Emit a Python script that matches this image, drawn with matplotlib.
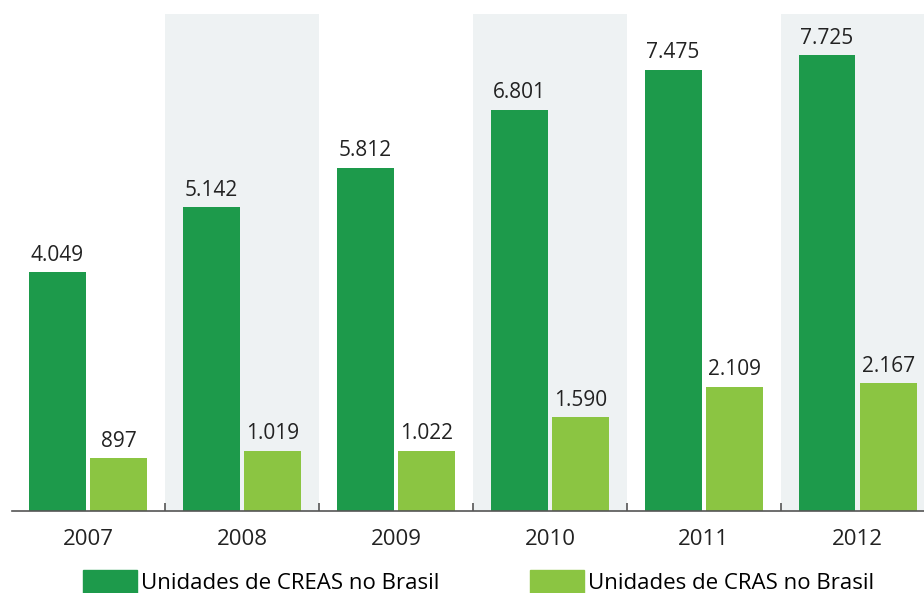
import numpy as np
import matplotlib.pyplot as plt
from matplotlib.patches import Patch

years = ["2007", "2008", "2009", "2010", "2011", "2012"]
creas = [4049, 5142, 5812, 6801, 7475, 7725]
cras = [897, 1019, 1022, 1590, 2109, 2167]

DARK = "#1d9a4b"
LIGHT = "#8bc542"
BAND = "#eef2f3"

plt.rcParams["font.family"] = ["Open Sans", "DejaVu Sans"]


def fmt(v):
    return f"{v:,}".replace(",", ".")


fig = plt.figure(figsize=(9.24, 5.93), dpi=100)
ax = fig.add_axes([12 / 924, 1 - 511 / 593, 1 - 12 / 924, (511 - 14) / 593])

x = np.arange(len(years))
w = 0.37
off = 0.2

# alternate shaded bands
for i in range(1, len(years), 2):
    ax.axvspan(i - 0.5, i + 0.5, color=BAND, zorder=0, lw=0)

b1 = ax.bar(x - off, creas, w, color=DARK, zorder=2)
b2 = ax.bar(x + off, cras, w, color=LIGHT, zorder=2)

for rect, v in list(zip(b1, creas)) + list(zip(b2, cras)):
    ax.text(rect.get_x() + rect.get_width() / 2, v + 110, fmt(v),
            ha="center", va="bottom", fontsize=15, color="#222222")

ax.set_yticks([])
for s in ["top", "right", "left"]:
    ax.spines[s].set_visible(False)
ax.spines["bottom"].set_color("#555555")
ax.spines["bottom"].set_linewidth(1.2)

ax.set_xticks(x)
ax.set_xticklabels(years, fontsize=16, color="#222222")
ax.tick_params(axis="x", which="major", length=0, pad=13)
ax.set_xticks(np.arange(-0.5, len(years), 1), minor=True)
ax.tick_params(axis="x", which="minor", direction="in", length=6,
               color="#555555", width=1.2)

# limits after ticks, set_xticks would widen them otherwise
ax.set_xlim(-0.494, 5.43)
ax.set_ylim(0, 8420)

handles = [Patch(color=DARK, label="Unidades de CREAS no Brasil"),
           Patch(color=LIGHT, label="Unidades de CRAS no Brasil")]
fig.legend(handles=handles, loc="center", ncol=2, frameon=False,
           bbox_to_anchor=(0.518, 1 - 582 / 593), fontsize=16,
           handlelength=2.4, handleheight=1.3, handletextpad=0.18,
           columnspacing=4.1)

fig.savefig("out.png", dpi=100)
